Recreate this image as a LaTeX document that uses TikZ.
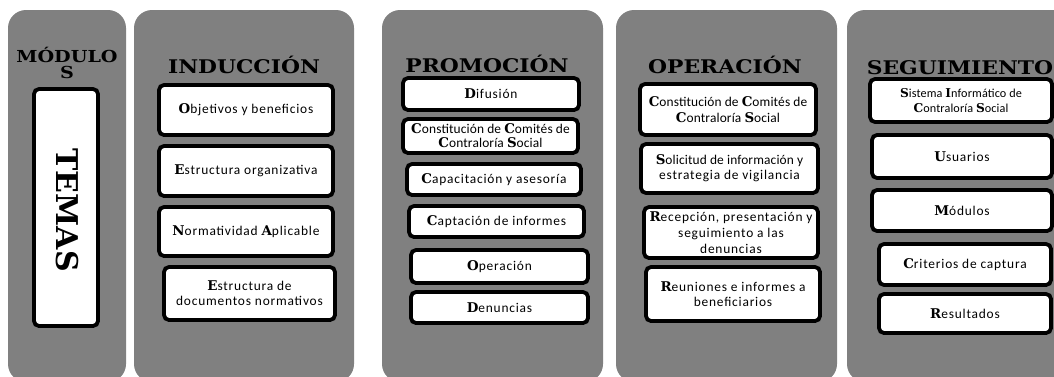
\documentclass[tikz,border=0pt]{standalone}
\usepackage{fontspec}
\usepackage{xcolor}
\usepackage{tikz}
\newfontfamily\bodyfont{Carlito}[LetterSpace=6]
\newfontfamily\tightfont{Carlito}[LetterSpace=1]
\newfontfamily\inifont{DejaVu Serif}
\newfontfamily\hdfont{DejaVu Serif}[FakeStretch=1.16]
\newfontfamily\temfont{DejaVu Serif}
\newcommand{\ini}[1]{{\inifont\bfseries #1}}
\definecolor{panelgray}{HTML}{808080}

\begin{document}
\begin{tikzpicture}[x=1pt, y=-1pt,
	panel/.style={fill=panelgray, rounded corners=18pt},
	tema/.style={draw=black, line width=3.8pt, rounded corners=5pt, fill=white, align=center, inner sep=1pt,
		font=\bodyfont\fontsize{13.4}{15}\selectfont},
	sz/.style 2 args={minimum width=#1pt, minimum height=#2pt},
	head/.style={anchor=base, align=center, text=black, font=\hdfont\bfseries\fontsize{18.8}{16}\selectfont}]
	\clip (0,0) rectangle (1054,376);
	% columns
	\fill[panel] (8,10) rectangle (126,382);
	\fill[panel] (134,10) rectangle (354,382);
	\fill[panel] (382,10) rectangle (603,382);
	\fill[panel] (616,10) rectangle (837,382);
	\fill[panel] (847,10) rectangle (1090,382);
	% modulos
	\node[head, font=\hdfont\bfseries\fontsize{16.5}{15.5}\selectfont] (hmod) at (67,78) {MÓDULO\\S};
	\node[tema, sz={64}{237}] (temas) at (66,207.5) {};
	\node[rotate=-90, font=\temfont\bfseries\fontsize{30}{30}\selectfont] (ttemas) at (67,210) {TEMAS};
	% induccion
	\node[head] (hind) at (244,73) {INDUCCIÓN};
	\node[tema, sz={174}{50}] (ind1) at (246,110) {\ini{O}bjetivos y beneficios};
	\node[tema, sz={174}{50}] (ind2) at (246,171) {\ini{E}structura organizativa};
	\node[tema, sz={174}{49}] (ind3) at (246,231.5) {\ini{N}ormatividad \ini{A}plicable};
	\node[tema, sz={171}{53}] (ind4) at (249.5,293.5) {\ini{E}structura de\\documentos normativos};
	% promocion
	\node[head] (hpro) at (487,72) {PROMOCIÓN};
	\node[tema, sz={176}{32}] (pro1) at (491,94) {\ini{D}ifusión};
	\node[tema, sz={175}{34}, inner sep=0pt, font=\tightfont\fontsize{13.4}{14}\selectfont] (pro2) at (490.5,136) {\ini{C}onstitución de \ini{C}omités de\\\ini{C}ontraloría \ini{S}ocial};
	\node[tema, sz={174}{31}] (pro3) at (494,179.5) {\ini{C}apacitación y asesoría};
	\node[tema, sz={175}{31}] (pro4) at (496.5,221.5) {\ini{C}aptación de informes};
	\node[tema, sz={177}{33}] (pro5) at (499.5,266.5) {\ini{O}peración};
	\node[tema, sz={177}{31}] (pro6) at (499.5,307.5) {\ini{D}enuncias};
	% operacion
	\node[head] (hope) at (725,73) {OPERACIÓN};
	\node[tema, sz={176}{51}, font=\tightfont\fontsize{13.4}{16}\selectfont] (ope1) at (728,109.5) {\ini{C}onstitución de \ini{C}omités de\\\ini{C}ontraloría \ini{S}ocial};
	\node[tema, sz={177}{49}] (ope2) at (729.5,168.5) {{\tightfont\ini{S}olicitud de información y}\\estrategia de vigilancia};
	\node[tema, sz={174}{51}, font=\bodyfont\fontsize{13.4}{16}\selectfont] (ope3) at (731,232.5) {\ini{R}ecepción, presentación y\\seguimiento a las\\denuncias};
	\node[tema, sz={174}{54}] (ope4) at (733,294) {\ini{R}euniones e informes a\\beneficiarios};
	% seguimiento
	\node[head] (hseg) at (960,74) {SEGUIMIENTO};
	\node[tema, sz={182}{43}, font=\tightfont\fontsize{12.2}{14.5}\selectfont] (seg1) at (961,100.5) {\ini{S}istema \ini{I}nformático de\\\ini{C}ontraloría \ini{S}ocial};
	\node[tema, sz={180}{43}] (seg2) at (962,156.5) {\ini{U}suarios};
	\node[tema, sz={180}{41}] (seg3) at (962,210.5) {\ini{M}ódulos};
	\node[tema, sz={172}{41}] (seg4) at (965,264.5) {\ini{C}riterios de captura};
	\node[tema, sz={172}{39}] (seg5) at (965,313.5) {\ini{R}esultados};
\end{tikzpicture}
\end{document}
